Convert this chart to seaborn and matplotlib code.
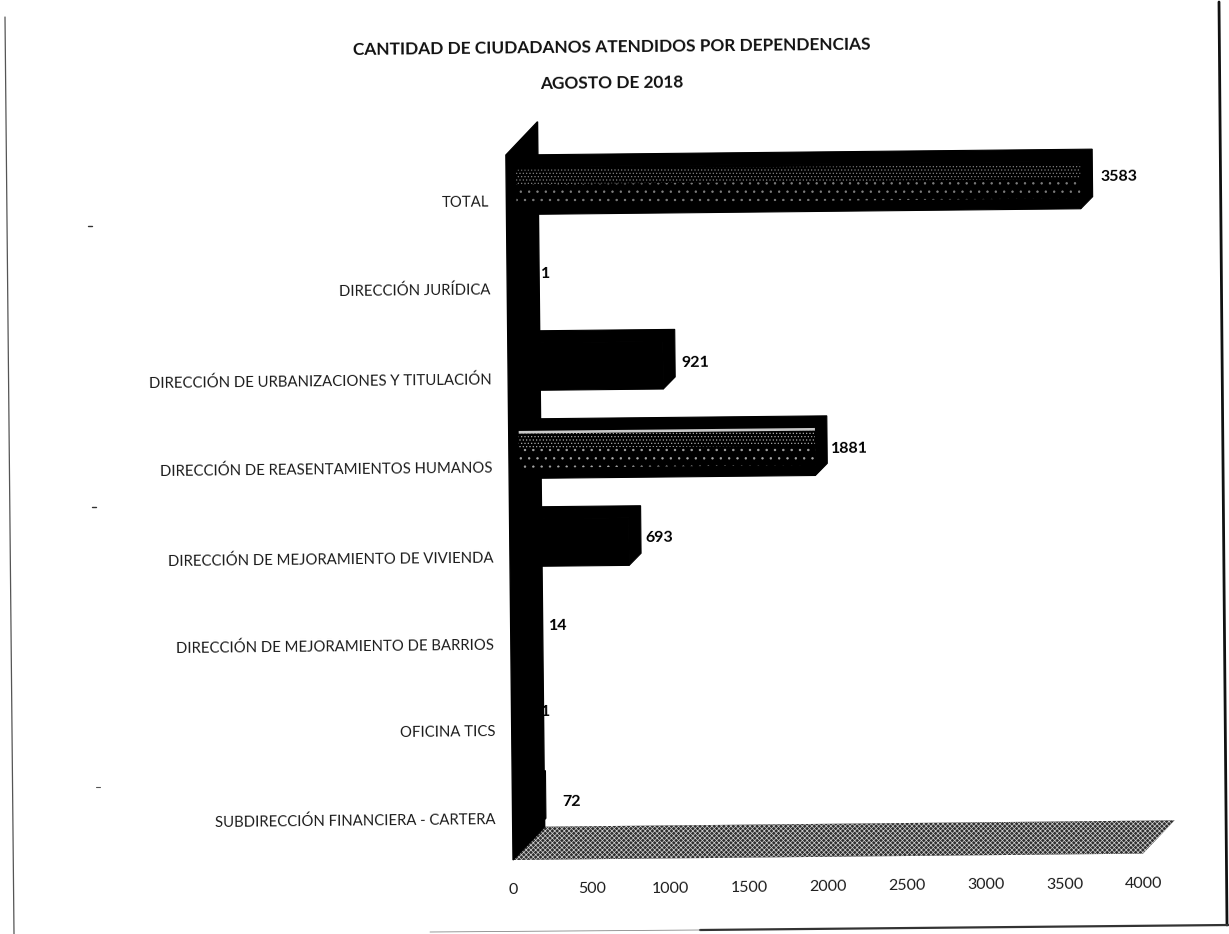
import matplotlib
matplotlib.use("Agg")
import matplotlib.pyplot as plt
from matplotlib.lines import Line2D
from matplotlib.patches import Polygon
from matplotlib.transforms import Affine2D
import pandas as pd
import seaborn as sns

dependencias = [
    "TOTAL",
    "DIRECCIÓN JURÍDICA",
    "DIRECCIÓN DE URBANIZACIONES Y TITULACIÓN",
    "DIRECCIÓN DE REASENTAMIENTOS HUMANOS",
    "DIRECCIÓN DE MEJORAMIENTO DE VIVIENDA",
    "DIRECCIÓN DE MEJORAMIENTO DE BARRIOS",
    "OFICINA TICS",
    "SUBDIRECCIÓN FINANCIERA - CARTERA",
]
ciudadanos = [3583, 1, 921, 1881, 693, 14, 1, 72]
x_ticks = [0, 500, 1000, 1500, 2000, 2500, 3000, 3500, 4000]
# small shifts of the labels, pixels
label_dx = [-2, 2, -4, -6, -6, 4, -3, 6]
label_dy = [5, 2, -1, 0, 1, 2, 4, 2]
ytick_dy = [0, 0, 2, 2, 4, 3, 2, 1]

df = pd.DataFrame({"dep": dependencias, "n": ciudadanos})

sns.set_theme(style="white")
plt.rcParams["font.family"] = ["Lato", "DejaVu Sans"]
plt.rcParams["hatch.linewidth"] = 0.5

W, H = 1229, 934
AX_TOP, AX_BOTTOM = 156.8, 860.8
fig = plt.figure(figsize=(W / 100, H / 100), dpi=100)
ax = fig.add_axes([513 / W, 1 - AX_BOTTOM / H, 630 / W, (AX_BOTTOM - AX_TOP) / H])

sns.barplot(data=df, y="dep", x="n", order=dependencias, color="black",
            width=0.54, saturation=1, edgecolor="black", linewidth=0.8, ax=ax)
ax.set_xlim(0, 4000)
ax.set_ylim(7.5, -0.5)
ax.set_xlabel("")
ax.set_ylabel("")
ax.set_xticks(x_ticks)
sns.despine(ax=ax, left=True, bottom=True)
ax.patch.set_alpha(0)

px_x = 4000 / 630
px_y = 8 / (AX_BOTTOM - AX_TOP)
# the scan is turned slightly
tilt = Affine2D().rotate_deg_around(513, H - 858, 0.58)
data_tr = ax.transData + tilt


def shift(dx, dy):
    return Affine2D().translate(dx, dy) + tilt


# left wall and floor
wd = 32 * px_x
hd = 33 * px_y
floor_y = 7.5 - 0.8 * px_y
wall_top = -0.5 - 1.8 * px_y
ax.add_patch(Polygon([(0, wall_top), (wd, wall_top - hd), (wd, floor_y - hd), (0, floor_y)],
                     closed=True, fc="black", ec="black", lw=1, transform=data_tr,
                     zorder=2, clip_on=False))
ax.add_patch(Polygon([(0, floor_y), (4000, floor_y), (4000 + wd, floor_y - hd), (wd, floor_y - hd)],
                     closed=True, fc="#2e2e2e", ec="#d0d0d0", lw=0, hatch="xxxxxxx",
                     transform=data_tr, zorder=1, clip_on=False))

# bars: front face moved into depth, then top and side faces
fd = 10
depth = 12
for i, bar in enumerate(ax.patches[:len(dependencias)]):
    v = ciudadanos[i]
    y0 = bar.get_y()
    y1 = y0 + bar.get_height()
    bar.set_transform(ax.transData + shift(fd, fd))
    bar.set_zorder(3)
    bar.set_clip_on(False)
    dx = depth * px_x
    dy = depth * px_y
    fx = fd * px_x
    fy = fd * px_y
    ax.add_patch(Polygon([(fx, y0 - fy), (fx + dx, y0 - fy - dy), (fx + v + dx, y0 - fy - dy),
                          (fx + v + dx, y1 - fy - dy), (fx + v, y1 - fy), (fx + v, y0 - fy)],
                         closed=True, fc="black", ec="black", lw=0.8,
                         transform=data_tr, zorder=3, clip_on=False))
    # mottled bands on the two long bars
    if v > 1000:
        col = "#a8a8a8" if v == 1881 else "#808080"
        for top, bot, hatch in [(0.03, 0.2, "....."), (0.2, 0.42, "..")]:
            ax.add_patch(Polygon([(fx, y0 - fy + top), (fx + v, y0 - fy + top),
                                  (fx + v, y0 - fy + bot), (fx, y0 - fy + bot)],
                                 closed=True, fc="black", ec=col, lw=0, hatch=hatch,
                                 transform=data_tr, zorder=4))
        if v == 1881:
            ax.add_patch(Polygon([(fx, y0 - fy), (fx + v, y0 - fy),
                                  (fx + v, y0 - fy + 0.03), (fx, y0 - fy + 0.03)],
                                 closed=True, fc="#c8c8c8", ec="none",
                                 transform=data_tr, zorder=4))
    ax.annotate(str(v), xy=(fx + v + dx, (y0 + y1) / 2 - fy), xycoords=data_tr,
                xytext=(10 + label_dx[i], 3 + label_dy[i]), textcoords="offset pixels",
                ha="left", va="center", fontsize=11.5, fontweight="bold",
                color="black", rotation=0.6, zorder=6)

ax.tick_params(axis="y", length=0, pad=12, labelsize=10.7, labelcolor="#1c1c1c")
ax.tick_params(axis="x", length=0, pad=16, labelsize=11.5, labelcolor="#1c1c1c")
for lab, d in zip(ax.get_yticklabels(), ytick_dy):
    lab.set_rotation(0.6)
    lab.set_rotation_mode("anchor")
    lab.set_transform(lab.get_transform() + Affine2D().translate(0, -d) + tilt)
for lab in ax.get_xticklabels():
    lab.set_rotation(0.6)
    lab.set_rotation_mode("anchor")
    lab.set_transform(lab.get_transform() + tilt)

fig.text(612 / W, 1 - 47 / H, "CANTIDAD DE CIUDADANOS ATENDIDOS POR DEPENDENCIAS",
         ha="center", va="center", fontsize=12.4, fontweight="bold", rotation=0.6, color="#111111")
fig.text(612 / W, 1 - 83 / H, "AGOSTO DE 2018",
         ha="center", va="center", fontsize=12.4, fontweight="bold", rotation=0.6, color="#111111")

# page edges of the scan
for xs, ys, lw, col in [
    ([5, 14], [17, 934], 0.9, "#555555"),
    ([1219, 1227], [2, 925], 2.0, "#111111"),
    ([700, 1229], [930, 925], 1.6, "#333333"),
    ([430, 700], [932, 930], 0.6, "#888888"),
    ([88, 92], [226, 226], 1.0, "#333333"),
    ([92, 96], [507, 507], 1.0, "#333333"),
    ([96, 100], [787, 787], 0.8, "#555555"),
]:
    fig.add_artist(Line2D([x / W for x in xs], [1 - y / H for y in ys], lw=lw, color=col))

fig.savefig("out.png", dpi=100)
